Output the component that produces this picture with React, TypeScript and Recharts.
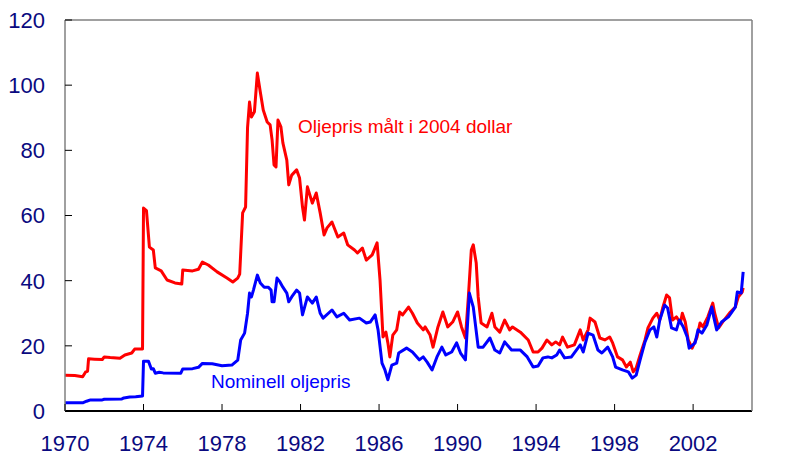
import React from "react";
import { Line, LineChart, ReferenceLine, XAxis, YAxis } from "recharts";

// Oljepris målt i 2004 dollar (rød)
const realYears = [
  1970.0, 1970.5, 1970.9, 1971.05, 1971.15, 1971.2, 1971.5, 1971.9, 1972.0, 1972.3, 1972.8,
  1973.05, 1973.4, 1973.55, 1973.95, 1974.0, 1974.15, 1974.3, 1974.5, 1974.6, 1974.9, 1975.2,
  1975.6, 1975.95, 1976.0, 1976.5, 1976.8, 1977.0, 1977.3, 1977.75, 1978.25, 1978.55, 1978.8,
  1978.9, 1979.05, 1979.2, 1979.3, 1979.4, 1979.5, 1979.65, 1979.8, 1979.95, 1980.1, 1980.3,
  1980.45, 1980.55, 1980.65, 1980.75, 1980.85, 1981.0, 1981.1, 1981.3, 1981.4, 1981.55, 1981.8,
  1981.95, 1982.1, 1982.2, 1982.35, 1982.6, 1982.8, 1983.0, 1983.2, 1983.35, 1983.6, 1983.9,
  1984.2, 1984.4, 1984.75, 1984.9, 1985.15, 1985.35, 1985.65, 1985.9, 1986.05, 1986.2, 1986.35,
  1986.45, 1986.55, 1986.7, 1986.9, 1987.05, 1987.2, 1987.5, 1987.7, 1987.95, 1988.25, 1988.35,
  1988.6, 1988.75, 1989.0, 1989.25, 1989.5, 1989.75, 1990.0, 1990.2, 1990.4, 1990.55, 1990.7,
  1990.8, 1990.95, 1991.05, 1991.2, 1991.5, 1991.75, 1991.9, 1992.15, 1992.4, 1992.65, 1992.8,
  1993.2, 1993.6, 1993.85, 1994.1, 1994.3, 1994.55, 1994.8, 1995.0, 1995.2, 1995.35, 1995.6,
  1995.95, 1996.25, 1996.4, 1996.65, 1996.75, 1997.0, 1997.25, 1997.5, 1997.75, 1997.9, 1998.15,
  1998.4, 1998.6, 1998.8, 1998.95, 1999.1, 1999.3, 1999.55, 1999.7, 1999.95, 2000.15, 2000.3,
  2000.45, 2000.65, 2000.8, 2000.95, 2001.15, 2001.35, 2001.45, 2001.6, 2001.75, 2001.95, 2002.2,
  2002.35, 2002.5, 2002.75, 2003.0, 2003.1, 2003.3, 2003.5, 2003.9, 2004.15, 2004.3, 2004.5,
  2004.55,
];
const realPrice = [
  11.0, 10.9, 10.5, 12, 12.2, 16, 15.9, 15.8, 16.6, 16.4, 16.2,
  17.2, 17.8, 19, 19, 62.3, 61.5, 50.3, 49.4, 43.9, 43, 40.2,
  39.3, 39, 43.3, 43, 43.5, 45.7, 44.8, 42.7, 40.8, 39.6, 40.8,
  42, 60.8, 62.6, 87, 94.8, 90.2, 91.8, 103.7, 97.9, 92.4, 88.7,
  87.8, 83.2, 75.5, 74.9, 89.3, 87.2, 82.3, 77, 69.4, 72.4, 74,
  71.5, 62.6, 58.6, 68.8, 63.8, 66.9, 60.8, 54, 56.2, 58, 53.4,
  54.6, 51, 49.4, 48.5, 50, 46.3, 47.9, 51.6, 40.2, 22.7, 24.2,
  20.9, 16.6, 23.3, 24.9, 30.4, 29.5, 31.9, 30, 27, 24.9, 25.8,
  23.3, 19.6, 25.8, 30.4, 25.8, 27.3, 30.4, 25.8, 22.4, 35, 49.4,
  51, 45.4, 35, 27, 25.8, 30, 25.8, 24.2, 27.9, 24.9, 25.8,
  24.2, 21.8, 18.1, 18.1, 19.3, 21.8, 20.3, 21.2, 20.3, 22.7, 19.6,
  20.3, 24.9, 21.8, 24.9, 28.5, 27.3, 22.4, 21.8, 22.7, 20.9, 16.6,
  15.7, 13.5, 15, 12, 13.2, 17.2, 21.8, 25.5, 28.5, 30, 27.9,
  31.6, 35.6, 34.7, 27.9, 28.9, 27, 30, 27.3, 21.8, 19.3, 22.7,
  27, 25.8, 28.9, 33.1, 30, 25.5, 27.3, 30.4, 31.9, 35, 36.5,
  37.8,
];

// Nominell oljepris (blå)
const nominalYears = [
  1970.0, 1970.9, 1971.1, 1971.3, 1971.9, 1972.0, 1972.9, 1973.0, 1973.3, 1973.6, 1973.95,
  1974.0, 1974.25, 1974.4, 1974.5, 1974.6, 1974.8, 1975.0, 1975.9, 1976.0, 1976.5, 1976.8,
  1977.0, 1977.5, 1978.0, 1978.5, 1978.8, 1978.95, 1979.15, 1979.3, 1979.4, 1979.5, 1979.6,
  1979.8, 1979.95, 1980.15, 1980.35, 1980.5, 1980.55, 1980.65, 1980.8, 1980.95, 1981.1, 1981.3,
  1981.4, 1981.55, 1981.8, 1981.95, 1982.1, 1982.35, 1982.6, 1982.8, 1983.0, 1983.15, 1983.6,
  1983.85, 1984.2, 1984.5, 1985.0, 1985.35, 1985.55, 1985.8, 1985.95, 1986.15, 1986.3, 1986.45,
  1986.65, 1986.9, 1987.0, 1987.4, 1987.7, 1988.05, 1988.25, 1988.45, 1988.7, 1988.95, 1989.2,
  1989.4, 1989.7, 1989.95, 1990.15, 1990.4, 1990.6, 1990.8, 1991.05, 1991.3, 1991.65, 1991.9,
  1992.15, 1992.4, 1992.75, 1993.2, 1993.55, 1993.85, 1994.1, 1994.35, 1994.6, 1994.8, 1995.05,
  1995.2, 1995.45, 1995.8, 1996.25, 1996.4, 1996.65, 1996.9, 1997.15, 1997.35, 1997.65, 1997.9,
  1998.05, 1998.4, 1998.7, 1998.9, 1999.1, 1999.3, 1999.55, 1999.8, 2000.0, 2000.15, 2000.3,
  2000.55, 2000.7, 2000.9, 2001.15, 2001.3, 2001.5, 2001.7, 2001.8, 2002.1, 2002.25, 2002.45,
  2002.7, 2002.95, 2003.05, 2003.2, 2003.45, 2003.8, 2004.15, 2004.25, 2004.45, 2004.55,
];
const nominalPrice = [
  2.5, 2.5, 3.0, 3.4, 3.4, 3.6, 3.7, 4.0, 4.3, 4.4, 4.6,
  15.3, 15.3, 12.9, 13, 11.6, 11.9, 11.7, 11.6, 12.9, 13, 13.4,
  14.6, 14.5, 13.9, 14.1, 15.6, 21.8, 23.9, 30, 36.2, 35, 37.1,
  41.7, 39.3, 38, 38, 37.1, 33.5, 33.5, 40.8, 39.6, 38, 36.2,
  33.5, 35, 37.1, 36.2, 29.5, 35, 33.1, 35, 30, 28.5, 31,
  28.9, 30, 27.9, 28.5, 27, 27.3, 29.5, 24.9, 14.7, 12.6, 9.6,
  14.1, 14.7, 17.8, 19.3, 18.1, 15.7, 16.6, 15, 12.6, 16.6, 19.6,
  17.2, 18.1, 20.9, 17.8, 15.7, 36.2, 31.9, 19.6, 19.6, 22.4, 18.7,
  17.8, 21.2, 18.7, 18.7, 16.6, 13.5, 13.8, 16.3, 16.6, 16.3, 17.2,
  18.7, 16.3, 16.6, 20.3, 18.1, 23.9, 23.3, 18.7, 17.8, 19.6, 16.6,
  13.5, 12.6, 12, 10.1, 11, 15.7, 21.2, 24.9, 25.8, 22.7, 27.9,
  32.5, 31.6, 25.5, 24.9, 27.9, 25.8, 22.7, 19.3, 20.9, 24.9, 23.9,
  26.4, 31.9, 28.9, 24.9, 27.3, 28.9, 31.9, 36.5, 36.2, 42.7,
];

const yearTicks = [1970, 1974, 1978, 1982, 1986, 1990, 1994, 1998, 2002];
const valueTicks = [0, 20, 40, 60, 80, 100, 120];

const realData = realYears.map((t, i) => ({ t, v: realPrice[i] }));
const nominalData = nominalYears.map((t, i) => ({ t, v: nominalPrice[i] }));

const FONT = "'Liberation Sans', Arial, sans-serif";
const NAVY = "#0a0a80";
const AXIS_GRAY = "#808080";

function LeftTick({ x, y, payload }: any) {
  return (
    <g>
      <line x1={x} x2={x + 7} y1={y} y2={y} stroke="#000" />
      <text x={x - 20} y={y} dy="0.36em" textAnchor="end" fill={NAVY} fontSize={22} fontFamily={FONT}>
        {payload.value}
      </text>
    </g>
  );
}

function RightTick({ x, y, payload }: any) {
  return (
    <g>
      <line x1={x} x2={x - 7} y1={y} y2={y} stroke="#000" />
      <text x={x + 18} y={y} dy="0.36em" textAnchor="start" fill={NAVY} fontSize={22} fontFamily={FONT}>
        {payload.value}
      </text>
    </g>
  );
}

function YearTick({ x, y, payload }: any) {
  // baseline kept a little above the bottom edge so the glyphs are not clipped
  return (
    <g>
      <line x1={x} x2={x} y1={y} y2={y - 7} stroke="#000" />
      <text x={x} y={y + 40} textAnchor="middle" fill={NAVY} fontSize={22} fontFamily={FONT}>
        {payload.value}
      </text>
    </g>
  );
}

export default function App() {
  return (
    <div style={{ position: "absolute", left: 0, top: 0, width: 811, height: 456, background: "#fff" }}>
      <LineChart width={811} height={456} margin={{ top: 20, right: 0, bottom: 0, left: 0 }}>
        <XAxis
          dataKey="t"
          type="number"
          domain={[1970, 2005]}
          ticks={yearTicks}
          interval={0}
          height={45}
          tickSize={0}
          tickMargin={0}
          tick={<YearTick />}
          axisLine={{ stroke: "#000", strokeWidth: 2 }}
          allowDataOverflow
        />
        <YAxis
          yAxisId="left"
          domain={[0, 120]}
          ticks={valueTicks}
          width={65}
          tickSize={0}
          tickMargin={0}
          tick={<LeftTick />}
          axisLine={{ stroke: AXIS_GRAY, strokeWidth: 1.5 }}
        />
        <YAxis
          yAxisId="right"
          orientation="right"
          domain={[0, 120]}
          ticks={valueTicks}
          width={59}
          tickSize={0}
          tickMargin={0}
          tick={<RightTick />}
          axisLine={{ stroke: AXIS_GRAY, strokeWidth: 1.5 }}
        />
        <ReferenceLine yAxisId="left" y={120} stroke={AXIS_GRAY} strokeWidth={1.5} />
        <Line
          yAxisId="left"
          data={realData}
          dataKey="v"
          type="linear"
          stroke="#ff0000"
          strokeWidth={3}
          strokeLinejoin="round"
          dot={false}
          activeDot={false}
          isAnimationActive={false}
        />
        <Line
          yAxisId="left"
          data={nominalData}
          dataKey="v"
          type="linear"
          stroke="#0000ff"
          strokeWidth={3}
          strokeLinejoin="round"
          dot={false}
          activeDot={false}
          isAnimationActive={false}
        />
      </LineChart>
      <div
        style={{
          position: "absolute",
          left: 298,
          top: 117,
          fontFamily: FONT,
          fontSize: 19,
          lineHeight: 1,
          color: "#ff0000",
          whiteSpace: "nowrap",
        }}
      >
        Oljepris målt i 2004 dollar
      </div>
      <div
        style={{
          position: "absolute",
          left: 211,
          top: 372,
          fontFamily: FONT,
          fontSize: 19,
          lineHeight: 1,
          color: "#0000ff",
          whiteSpace: "nowrap",
        }}
      >
        Nominell oljepris
      </div>
    </div>
  );
}
